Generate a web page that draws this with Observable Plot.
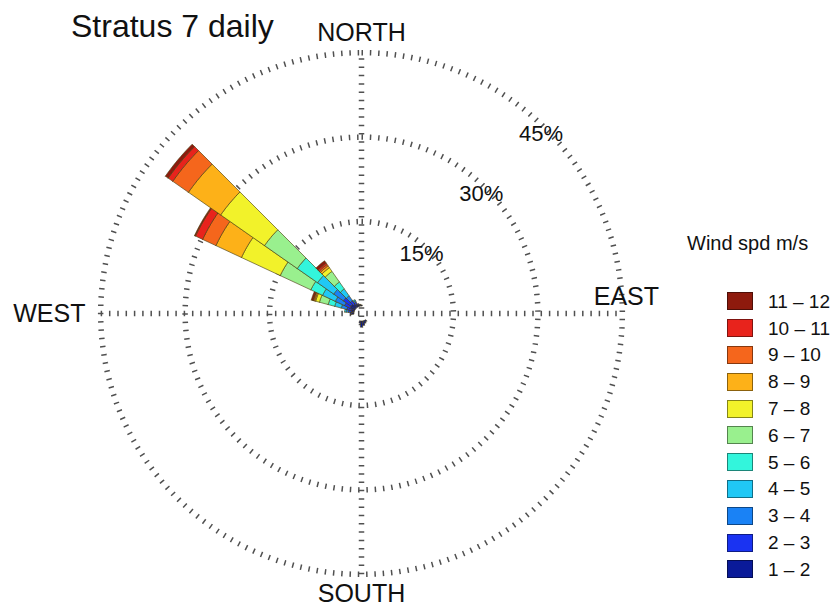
<!DOCTYPE html>
<html><head><meta charset="utf-8">
<script src="https://cdn.jsdelivr.net/npm/d3@7"></script>
<script src="https://cdn.jsdelivr.net/npm/@observablehq/plot@0.6"></script>
<style>
body{margin:0;background:#fff;font-family:"Liberation Sans",Arial,Helvetica,sans-serif;color:#111;}
#wrap{position:relative;width:839px;height:609px;overflow:hidden;}
#title{position:absolute;left:71px;top:10px;font-size:32px;line-height:32px;white-space:nowrap;}
#legend{position:absolute;left:687px;top:233px;}
#legend .lt{font-size:20px;line-height:20px;white-space:nowrap;}
#legend .rows{position:absolute;left:40px;top:55px;}
#legend .row{height:26.8px;display:flex;align-items:center;white-space:nowrap;}
#legend .sw{width:24px;height:16px;border:1px solid rgba(0,0,0,0.45);margin-right:15px;}
#legend .lab{font-size:19px;line-height:19px;}
</style></head>
<body><div id="wrap"><div id="title">Stratus 7 daily</div><div id="legend"><div class="lt">Wind spd m/s</div><div class="rows"></div></div></div>
<script>
// ---- data (percent frequency of each speed bin, per 10° direction sector) ----
const speedBins = ["1 – 2","2 – 3","3 – 4","4 – 5","5 – 6","6 – 7","7 – 8","8 – 9","9 – 10","10 – 11","11 – 12"];
const binColors = ["#0a1a99","#1a33f2","#1a82f5","#20c8f5","#33f5dc","#99f08e","#f2f22a","#fdb118","#f5661c","#e8231c","#8e1a0d"];
const directions = [150, 160, 170, 180, 190, 270, 280, 290, 300, 310, 320, 330, 340, 350, 0];
const dir150 = [0.3];
const dir160 = [0.5];
const dir170 = [0.8];
const dir180 = [1.1];
const dir190 = [0.4];
const dir270 = [0.4, 0.2];
const dir280 = [0.5, 0.5, 0.4, 0.3];
const dir290 = [0.6, 0.8, 1.0, 1.2, 1.2, 1.6, 0.7, 0.2, 0.2, 0.1, 0.3];
const dir300 = [0.9, 1.1, 1.8, 2.5, 2.3, 6.0, 7.6, 5.0, 2.6, 1.4, 0.2];
const dir310 = [1.0, 1.6, 2.1, 3.5, 4.4, 7.1, 9.5, 7.0, 3.4, 1.0, 0.6];
const dir320 = [0.7, 0.8, 1.0, 1.5, 1.5, 2.3, 0.8, 0.4, 0.3, 0.3, 0.5];
const dir330 = [0.5, 0.4, 0.3, 0.2];
const dir340 = [0.3, 0.2];
const dir350 = [0.3];
const dir0 = [0.2];
const sectorFreq = [dir150, dir160, dir170, dir180, dir190, dir270, dir280, dir290, dir300, dir310, dir320, dir330, dir340, dir350, dir0];
const ringPcts = [15, 30, 45];
const ringLabels = ["15%", "30%", "45%"];
const compass = ["NORTH", "EAST", "SOUTH", "WEST"];

// ---- layout ----
const W = 839, H = 609;
const k = 5.63;            // px per percent
const cx = 361, cy = 313;  // centre of the rose
const off = 7.5 / k;       // central hole (in percent units)
const sector = 10;

const rad = d => d * Math.PI / 180;
const P = (deg, u) => ({x: u * Math.sin(rad(deg)), y: u * Math.cos(rad(deg))});

// wedge polygons
const wedges = [];
directions.forEach((d, di) => {
  let cum = 0;
  sectorFreq[di].forEach((v, bi) => {
    if (!(v > 0)) return;
    const r1 = off + cum, r2 = off + cum + v;
    cum += v;
    const id = d + "-" + bi, bin = speedBins[bi];
    const pts = [];
    for (let a = d - sector/2; a <= d + sector/2 + 1e-9; a += 1) pts.push(P(a, r2));
    for (let a = d + sector/2; a >= d - sector/2 - 1e-9; a -= 1) pts.push(P(a, r1));
    pts.push(pts[0]);
    pts.forEach(p => wedges.push({...p, id, bin}));
  });
});

// rings
const rings = [];
ringPcts.forEach(p => {
  for (let a = 0; a <= 360; a += 1) rings.push({...P(a, off + p), ring: p});
});
const outer = off + d3.max(ringPcts);

const ringLab = ringPcts.map((p, i) => ({...P(45, off + p - 1.25), label: ringLabels[i]}));

const dash = {stroke: "#505050", strokeWidth: 5.5, strokeDasharray: "1.5,6.8", strokeLinecap: "butt", strokeLinejoin: "miter"};

const chart = Plot.plot({
  width: W, height: H,
  marginLeft: 0, marginRight: 0, marginTop: 0, marginBottom: 0,
  x: {domain: [-cx / k, (W - cx) / k], axis: null},
  y: {domain: [-(H - cy) / k, cy / k], axis: null},
  color: {type: "ordinal", domain: speedBins, range: binColors},
  style: {fontFamily: "'Liberation Sans', Arial, sans-serif", background: "transparent"},
  marks: [
    Plot.line(rings, {x: "x", y: "y", z: "ring", ...dash}),
    Plot.link([{x1: -outer, x2: outer, y1: 0, y2: 0}, {x1: 0, x2: 0, y1: -outer, y2: outer}],
      {x1: "x1", x2: "x2", y1: "y1", y2: "y2", ...dash}),
    Plot.line(wedges, {x: "x", y: "y", z: "id", fill: "bin", stroke: "#4a3f10", strokeWidth: 0.8, strokeOpacity: 0.8, curve: "linear"}),
    Plot.text(ringLab, {x: "x", y: "y", text: "label", fontSize: 22, fill: "#111"}),
    Plot.text([compass[0]], {x: 0, y: off + 45 + 3.55, text: d => d, fontSize: 25, fill: "#111"}),
    Plot.text([compass[2]], {x: 0, y: -(off + 45 + 3.55), text: d => d, fontSize: 25, fill: "#111"}),
    Plot.text([compass[3]], {x: -(off + 45 + 2.7), y: 0, text: d => d, fontSize: 25, fill: "#111", textAnchor: "end"}),
    Plot.text([compass[1]], {x: off + 45 + 0.0, y: 0, dx: 4, dy: -17, text: d => d, fontSize: 25, fill: "#111"})
  ]
});
chart.style.position = "absolute";
chart.style.left = "0px";
chart.style.top = "0px";
const wrap = document.getElementById("wrap");
wrap.insertBefore(chart, wrap.firstChild);

// legend (top bin first)
const rows = document.querySelector("#legend .rows");
speedBins.slice().reverse().forEach((b, i) => {
  const c = binColors[binColors.length - 1 - i];
  const r = document.createElement("div");
  r.className = "row";
  r.innerHTML = `<div class="sw" style="background:${c}"></div><div class="lab">${b}</div>`;
  rows.appendChild(r);
});
</script>
</body></html>
